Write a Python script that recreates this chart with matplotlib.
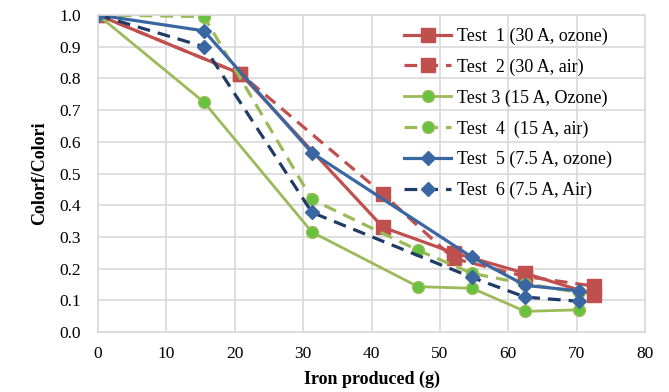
import numpy as np
import matplotlib
matplotlib.use('Agg')
import matplotlib.pyplot as plt

plt.rcParams['font.family'] = ['Liberation Serif', 'DejaVu Serif']

# data
x_t1 = [0, 20.8, 41.7, 52.0, 62.5, 72.5]
y_t1 = [1.0, 0.815, 0.33, 0.25, 0.185, 0.118]
x_t2 = [0, 20.8, 41.7, 52.0, 62.5, 72.5]
y_t2 = [1.0, 0.815, 0.435, 0.232, 0.175, 0.145]
x_t3 = [0, 15.5, 31.3, 46.8, 54.7, 62.5, 70.3]
y_t3 = [1.0, 0.725, 0.315, 0.143, 0.138, 0.065, 0.07]
x_t4 = [0, 15.5, 31.3, 46.8, 54.7, 62.5, 70.3]
y_t4 = [1.0, 0.995, 0.418, 0.258, 0.185, 0.152, 0.125]
x_t5 = [0, 15.5, 31.3, 54.7, 62.5, 70.3]
y_t5 = [1.0, 0.95, 0.565, 0.236, 0.147, 0.13]
x_t6 = [0, 15.5, 31.3, 54.7, 62.5, 70.3]
y_t6 = [1.0, 0.90, 0.377, 0.172, 0.11, 0.097]

labels = ['Test  1 (30 A, ozone)', 'Test  2 (30 A, air)', 'Test 3 (15 A, Ozone)',
          'Test  4  (15 A, air)', 'Test  5 (7.5 A, ozone)', 'Test  6 (7.5 A, Air)']

red = '#C0504D'
green = '#9BBB59'
green_m = '#66C23F'
blue = '#3A67A2'
navy = '#1F3B66'
dash = (4, 2.5)

fig = plt.figure(figsize=(6.69, 3.92), dpi=100)
ax = fig.add_axes([98/669, 1 - 332/392, (645-98)/669, (332-15)/392])

ax.plot(x_t1, y_t1, color=red, lw=2.3, marker='s', ms=10, mfc=red, mec=red, label=labels[0])
ax.plot(x_t2, y_t2, color=red, lw=2.3, ls=(0, dash), marker='s', ms=10, mfc=red, mec=red, label=labels[1])
ax.plot(x_t3, y_t3, color=green, lw=2.0, marker='o', ms=8.5, mfc=green_m, mec=green, label=labels[2])
ax.plot(x_t4, y_t4, color=green, lw=2.3, ls=(0, dash), marker='o', ms=8.5, mfc=green_m, mec=green, label=labels[3])
ax.plot(x_t5, y_t5, color=blue, lw=2.3, marker='D', ms=7.5, mfc=blue, mec=blue, label=labels[4])
ax.plot(x_t6, y_t6, color=navy, lw=2.3, ls=(0, dash), marker='D', ms=7.5, mfc=blue, mec=blue, label=labels[5])

ax.set_xlim(0, 80)
ax.set_ylim(0, 1.0)
ax.set_xticks(np.arange(0, 81, 10))
ax.set_yticks(np.arange(0, 1.01, 0.1))
ax.yaxis.set_major_formatter(matplotlib.ticker.FormatStrFormatter('%.1f'))
ax.grid(True, color='#D9D9D9', lw=1.2)
ax.set_axisbelow(True)
for s in ax.spines.values():
    s.set_color('#D9D9D9')
    s.set_linewidth(1.2)
ax.tick_params(length=0, labelsize=12.5)
ax.tick_params(axis='y', pad=12)
ax.tick_params(axis='x', pad=10)
ax.set_xlabel('Iron produced (g)', fontsize=13, fontweight='bold', labelpad=6)
ax.set_ylabel('Colorf/Colori', fontsize=13, fontweight='bold', labelpad=8)

ax.legend(loc='upper left', bbox_to_anchor=(0.537, 1.0), frameon=False, fontsize=13,
          handlelength=2.6, labelspacing=0.75, handletextpad=0.3, borderpad=0.2)

fig.savefig('out.png', dpi=100)
